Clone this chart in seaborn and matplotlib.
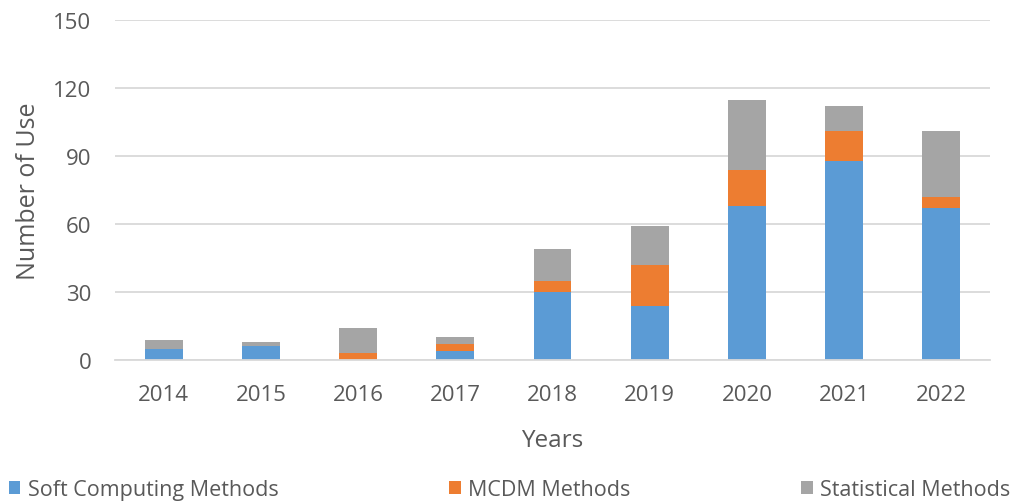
import matplotlib
matplotlib.use("Agg")
import matplotlib.pyplot as plt
import seaborn as sns
import numpy as np
from matplotlib.patches import Patch

years = ["2014", "2015", "2016", "2017", "2018", "2019", "2020", "2021", "2022"]
soft_computing = [5, 6, 0, 4, 30, 24, 68, 88, 67]
mcdm = [0, 0, 3, 3, 5, 18, 16, 13, 5]
statistical = [4, 2, 11, 3, 14, 17, 31, 11, 29]

series_names = ["Soft Computing Methods", "MCDM Methods", "Statistical Methods"]
colors = ["#5B9BD5", "#ED7D31", "#A5A5A5"]
text_color = "#595959"

sns.set_theme(style="white")
plt.rcParams["font.family"] = ["Open Sans", "DejaVu Sans"]

fig = plt.figure(figsize=(10.19, 5.02), dpi=100)
ax = fig.add_axes([0.1129, 0.2809, 0.8586, 0.6763])

bottom = np.zeros(len(years))
for vals, col in zip([soft_computing, mcdm, statistical], colors):
    sns.barplot(x=years, y=vals, bottom=bottom, color=col, width=0.39,
                saturation=1, ax=ax, edgecolor="none", linewidth=0)
    bottom = bottom + np.array(vals)

ax.set_ylim(0, 150)
ax.set_yticks([0, 30, 60, 90, 120, 150])
ax.set_xlim(-0.5, len(years) - 0.5)
ax.yaxis.grid(True, color="#D9D9D9", linewidth=1.3)
ax.set_axisbelow(True)
for s in ["top", "right", "left"]:
    ax.spines[s].set_visible(False)
ax.spines["bottom"].set_color("#D9D9D9")
ax.spines["bottom"].set_linewidth(1.3)

ax.tick_params(axis="both", length=0, labelsize=16, colors=text_color)
ax.tick_params(axis="y", pad=17)
ax.tick_params(axis="x", pad=17)
ax.set_xlabel("Years", fontsize=17.5, color=text_color, labelpad=17)
ax.set_ylabel("Number of Use", fontsize=18, color=text_color, labelpad=9)

handles = [Patch(facecolor=c, edgecolor="none") for c in colors]
fig.legend(handles, series_names, loc="lower left", ncol=3, mode="expand",
           bbox_to_anchor=(0.0, -0.015, 1.0, 0.05), frameon=False,
           fontsize=15.5, labelcolor=text_color, handlelength=0.55,
           handleheight=0.55, handletextpad=0.35, borderaxespad=0)

fig.savefig("out.png", dpi=100)
